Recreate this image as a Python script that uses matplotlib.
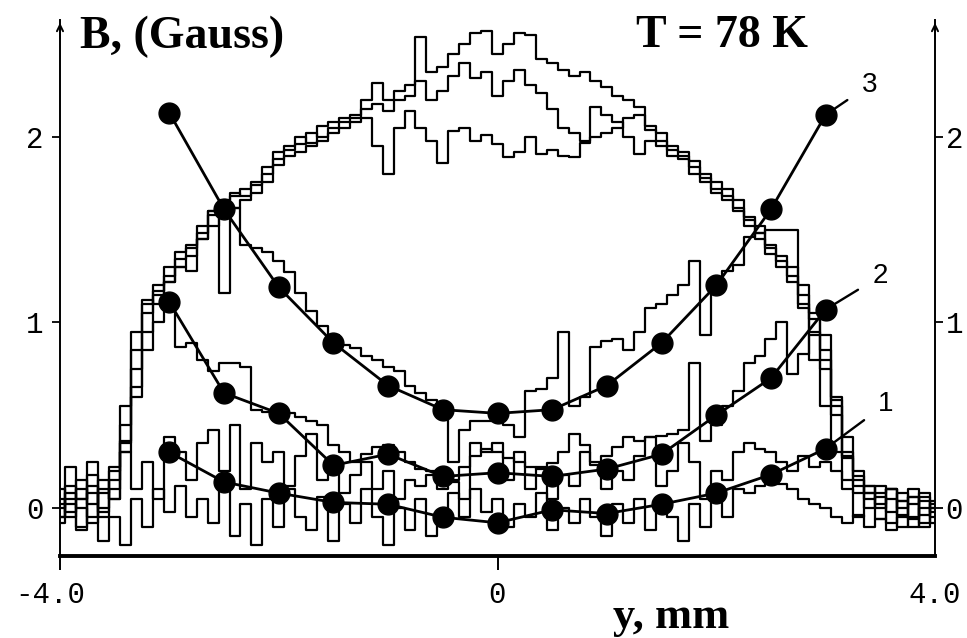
import numpy as np
import matplotlib
matplotlib.use("Agg")
import matplotlib.pyplot as plt
import matplotlib.transforms as mtransforms

# ---------------- data ----------------
x_scan = np.round(np.arange(-4.0, 4.0001, 0.1), 2)

trace_a = [0.05, -0.05, 0.10, 0.02, 0.15, 0.05, 0.35, 0.75, 1.05, 1.20,
           1.30, 1.38, 1.42, 1.52, 1.60, 1.66, 1.68, 1.72, 1.76, 1.84,
           1.92, 1.95, 2.00, 1.97, 2.06, 2.08, 2.10, 2.12, 2.20, 2.29,
           2.20, 2.25, 2.28, 2.54, 2.35, 2.38, 2.45, 2.50, 2.56, 2.57,
           2.45, 2.50, 2.56, 2.55, 2.42, 2.40, 2.36, 2.33, 2.35, 2.30,
           2.27, 2.22, 2.20, 2.16, 2.06, 2.02, 1.95, 1.92, 1.87, 1.80,
           1.76, 1.72, 1.66, 1.57, 1.52, 1.42, 1.36, 1.30, 1.20, 1.05,
           0.85, 0.60, 0.38, 0.20, 0.12, 0.08, 0.10, 0.00, 0.06, -0.04, 0.02]

trace_b = [-0.05, 0.08, -0.10, 0.12, -0.02, 0.20, 0.45, 0.85, 1.10, 1.17,
           1.25, 1.34, 1.40, 1.48, 1.58, 1.62, 1.70, 1.68, 1.74, 1.80,
           1.88, 1.93, 1.96, 2.02, 2.00, 2.05, 2.08, 2.10, 2.15, 2.18,
           2.14, 2.20, 2.22, 2.30, 2.20, 2.25, 2.33, 2.40, 2.32, 2.35,
           2.22, 2.30, 2.36, 2.28, 2.24, 2.15, 2.05, 2.02, 1.98, 2.00,
           2.02, 2.05, 2.10, 2.12, 2.04, 1.98, 1.93, 1.90, 1.84, 1.78,
           1.72, 1.68, 1.62, 1.55, 1.48, 1.40, 1.33, 1.25, 1.15, 1.02,
           0.80, 0.55, 0.30, 0.15, 0.05, 0.12, -0.02, 0.08, -0.06, 0.04, -0.02]

trace_c = [0.02, 0.12, 0.00, -0.08, 0.08, 0.10, 0.30, 0.65, 0.95, 1.15,
           1.22, 1.30, 1.36, 1.45, 1.52, 1.58, 1.62, 1.66, 1.70, 1.76,
           1.85, 1.90, 1.92, 1.95, 1.98, 2.02, 2.05, 2.08, 2.10, 1.95,
           1.80, 2.05, 2.14, 2.05, 1.98, 1.86, 2.03, 2.05, 1.98, 2.01,
           1.96, 1.89, 1.92, 2.00, 1.91, 1.93, 1.90, 1.89, 1.97, 2.16,
           2.12, 2.08, 2.00, 1.91, 1.98, 1.95, 1.90, 1.88, 1.80, 1.76,
           1.70, 1.66, 1.60, 1.52, 1.45, 1.37, 1.30, 1.22, 1.10, 0.95,
           0.75, 0.50, 0.28, 0.12, 0.00, 0.06, -0.08, 0.04, 0.10, -0.10, 0.00]

trace_d = [0.10, -0.02, 0.05, 0.18, 0.00, 0.22, 0.55, 0.95, 1.12, 1.10,
           1.22, 1.30, 1.28, 1.45, 1.60, 1.16, 1.62, 1.42, 1.40, 1.38,
           1.33, 1.27, 1.16, 1.06, 0.98, 0.93, 0.88, 0.86, 0.82, 0.80,
           0.76, 0.74, 0.66, 0.62, 0.58, 0.55, 0.25, 0.42, 0.47, 0.47,
           0.47, 0.45, 0.38, 0.63, 0.64, 0.70, 0.95, 0.55, 0.60, 0.87,
           0.90, 0.91, 0.85, 0.95, 1.08, 1.10, 1.15, 1.20, 1.33, 0.93,
           1.23, 1.28, 1.31, 1.46, 1.48, 1.50, 1.50, 1.50, 1.08, 0.80,
           0.55, 0.30, 0.10, -0.05, 0.08, -0.06, 0.05, -0.10, 0.02, 0.08, -0.05]

trace_e = [-0.08, 0.05, 0.15, -0.05, 0.10, 0.05, 0.36, 0.60, 0.85, 1.00,
           1.12, 0.87, 0.89, 0.80, 0.74, 0.78, 0.78, 0.76, 0.53, 0.52,
           0.51, 0.51, 0.49, 0.47, 0.45, 0.34, 0.30, 0.25, 0.29, 0.33,
           0.34, 0.30, 0.25, 0.21, 0.20, 0.17, 0.15, 0.22, 0.28, 0.32,
           0.30, 0.27, 0.25, 0.22, 0.21, 0.24, 0.30, 0.40, 0.34, 0.23,
           0.28, 0.33, 0.38, 0.36, 0.38, 0.39, 0.40, 0.42, 0.78, 0.36,
           0.45, 0.55, 0.63, 0.78, 0.82, 0.91, 1.00, 0.72, 0.83, 0.93,
           0.93, 0.58, 0.27, 0.17, 0.08, 0.00, 0.10, -0.04, 0.06, -0.08, 0.04]

trace_f = [0.00, 0.22, 0.05, 0.25, -0.05, 0.15, 0.30, 0.10, 0.25, 0.05,
           0.38, 0.30, 0.15, 0.35, 0.42, 0.20, 0.45, 0.10, 0.35, 0.25,
           0.30, 0.12, 0.28, 0.40, 0.15, 0.22, 0.08, 0.18, 0.25, 0.10,
           0.20, 0.05, 0.15, 0.12, 0.18, 0.10, 0.14, 0.05, 0.35, 0.30,
           0.35, 0.15, 0.30, 0.10, 0.22, 0.05, 0.18, 0.12, 0.30, 0.25,
           0.10, 0.20, 0.15, 0.28, 0.38, 0.12, 0.20, 0.35, 0.25, 0.05,
           0.20, 0.15, 0.30, 0.35, 0.32, 0.30, 0.25, 0.20, 0.28, 0.22,
           0.25, 0.20, 0.15, 0.08, 0.12, 0.02, 0.10, 0.04, -0.05, 0.06, 0.00]

trace_g = [-0.05, 0.02, -0.12, 0.08, -0.18, -0.05, -0.20, 0.05, -0.10, 0.10,
           -0.02, 0.12, -0.05, 0.05, -0.08, 0.10, -0.15, 0.02, -0.20, 0.05,
           -0.10, 0.10, -0.05, -0.12, 0.06, -0.18, 0.02, -0.08, 0.10, -0.05,
           -0.20, 0.00, -0.12, 0.05, -0.15, -0.02, 0.08, -0.05, 0.10, -0.02,
           0.05, -0.10, 0.02, -0.05, 0.08, -0.12, 0.00, -0.08, 0.05, -0.05,
           -0.15, 0.02, -0.08, 0.05, -0.12, 0.00, -0.05, -0.18, 0.02, -0.10,
           0.05, -0.05, 0.10, 0.08, 0.12, 0.15, 0.13, 0.10, 0.05, 0.02,
           0.00, -0.05, -0.08, -0.04, -0.10, -0.06, -0.12, -0.05, -0.10, 0.00, -0.08]

traces = [trace_a, trace_b, trace_c, trace_d, trace_e, trace_f, trace_g]

x_dots = [-3.0, -2.5, -2.0, -1.5, -1.0, -0.5, 0.0, 0.5, 1.0, 1.5, 2.0, 2.5, 3.0]
curve_3 = [2.13, 1.61, 1.19, 0.89, 0.66, 0.53, 0.51, 0.53, 0.66, 0.89, 1.20, 1.61, 2.12]
curve_2 = [1.11, 0.62, 0.51, 0.23, 0.29, 0.17, 0.19, 0.17, 0.21, 0.29, 0.50, 0.70, 1.07]
curve_1 = [0.30, 0.14, 0.08, 0.03, 0.02, -0.05, -0.08, -0.01, -0.03, 0.02, 0.08, 0.18, 0.32]
curves = [curve_1, curve_2, curve_3]
curve_names = ["1", "2", "3"]
label_x = [3.55, 3.50, 3.40]
label_y = [0.56, 1.25, 2.28]

y_ticks = [0, 1, 2]
x_ticks = [-4.0, 0.0, 4.0]
x_tick_labels = ["-4.0", "0", "4.0"]

# ---------------- figure ----------------
W, H = 967, 638
fig = plt.figure(figsize=(W / 100, H / 100), dpi=100)
fig.patch.set_facecolor("white")
ax = fig.add_axes([60 / W, (H - 556) / H, (935 - 60) / W, (556 - 20) / H])
ax.set_xlim(-4, 4)
ax.set_ylim(-0.259, 2.631)

for tr in traces:
    ax.step(x_scan, tr, where="mid", color="black", lw=1.6, zorder=2)

for cv, name, lx, ly in zip(curves, curve_names, label_x, label_y):
    ax.plot(x_dots, cv, color="black", lw=2.0, marker="o", markersize=15,
            markerfacecolor="black", markeredgecolor="black", zorder=4)
    ax.annotate(name, xy=(x_dots[-1], cv[-1]), xytext=(lx, ly),
                ha="center", va="center", fontsize=20,
                family=["Liberation Sans", "DejaVu Sans"],
                arrowprops=dict(arrowstyle="-", lw=1.7, color="black",
                                shrinkA=10, shrinkB=0), zorder=5)

# spines
ax.spines["top"].set_visible(False)
for s in ("left", "right"):
    ax.spines[s].set_linewidth(1.4)
ax.spines["bottom"].set_linewidth(2.8)

# axis arrows
for xf in (0, 1):
    ax.annotate("", xy=(xf, 1.0), xycoords="axes fraction",
                xytext=(xf, 0.96), textcoords="axes fraction",
                arrowprops=dict(arrowstyle="->,head_length=0.45,head_width=0.22",
                                lw=1.4, color="black"))

mono = ["Liberation Mono", "DejaVu Sans Mono"]
ax.set_yticks(y_ticks)
ax.set_yticklabels([str(t) for t in y_ticks], family=mono, fontsize=21)
ax.tick_params(axis="y", direction="out", length=6, width=1.3, pad=6,
               left=True, right=True, labelleft=True, labelright=True)
ax.set_xticks(x_ticks)
ax.set_xticklabels(x_tick_labels, family=mono, fontsize=21)
ax.tick_params(axis="x", direction="out", length=10, width=1.4, pad=8)
ax.xaxis.get_major_ticks()[2].tick1line.set_visible(False)

# nudge right-hand tick labels inward so they stay inside the figure
shift_right = mtransforms.ScaledTranslation(-6 / 100, 0, fig.dpi_scale_trans)
for t in ax.yaxis.get_major_ticks():
    t.label2.set_transform(t.label2.get_transform() + shift_right)
shift_left = mtransforms.ScaledTranslation(-10 / 100, 0, fig.dpi_scale_trans)
t0 = ax.xaxis.get_major_ticks()[0]
t0.label1.set_transform(t0.label1.get_transform() + shift_left)

serif = ["Liberation Serif", "DejaVu Serif"]
fig.text(80 / W, 1 - 48 / H, "B, (Gauss)", family=serif, weight="bold",
         fontsize=33, ha="left", va="baseline")
fig.text(636 / W, 1 - 47 / H, "T = 78 K", family=serif, weight="bold",
         fontsize=33, ha="left", va="baseline")
fig.text(671 / W, 1 - 628 / H, "y, mm", family=serif, weight="bold",
         fontsize=32, ha="center", va="baseline")

fig.savefig("out.png", dpi=100, facecolor="white")
